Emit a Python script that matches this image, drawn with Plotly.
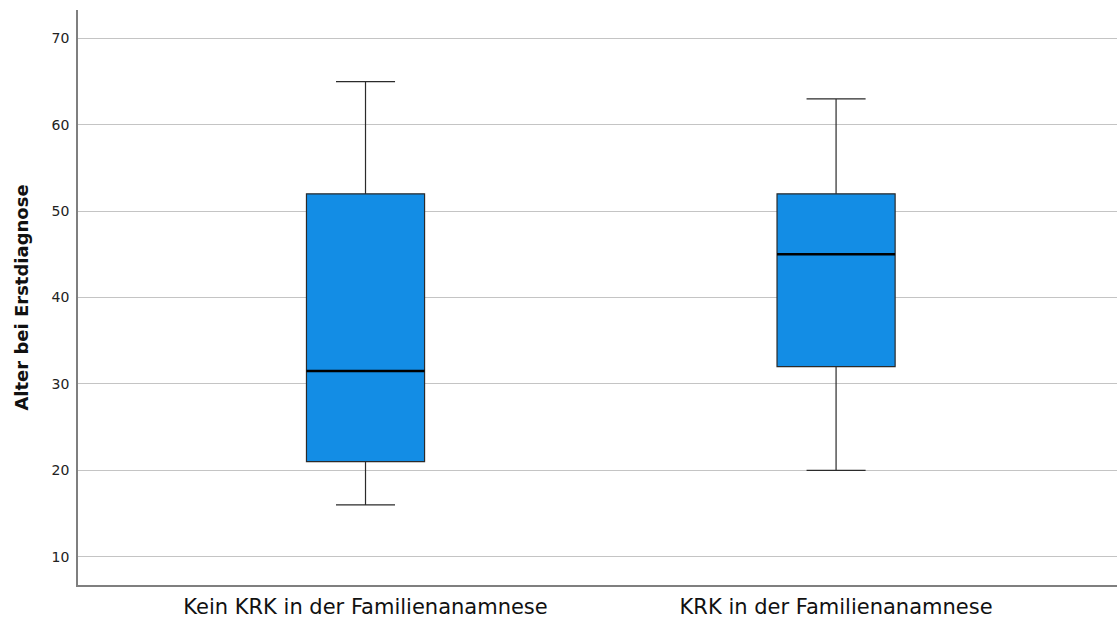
import plotly.graph_objects as go

# Group labels and five-number summaries (age at first diagnosis)
groups = ["Kein KRK in der Familienanamnese", "KRK in der Familienanamnese"]
lower_whisker = [16, 20]
q1 = [21, 32]
median = [31.5, 45]
q3 = [52, 52]
upper_whisker = [65, 63]

y_ticks = [10, 20, 30, 40, 50, 60, 70]

positions = list(range(len(groups)))
box_width = 0.251
box_fill = "#138de5"

fig = go.Figure()

fig.add_trace(go.Box(
    x=positions,
    q1=q1,
    median=median,
    q3=q3,
    lowerfence=lower_whisker,
    upperfence=upper_whisker,
    width=box_width,
    whiskerwidth=0.5,
    fillcolor=box_fill,
    line=dict(color="#2b2b2b", width=1.2),
    boxpoints=False,
    hoverinfo="skip",
    showlegend=False,
))

# Thicker median bars drawn over each box
for pos, med in zip(positions, median):
    fig.add_trace(go.Scatter(
        x=[pos - box_width / 2, pos + box_width / 2],
        y=[med, med],
        mode="lines",
        line=dict(color="black", width=2.6),
        hoverinfo="skip",
        showlegend=False,
    ))

fig.update_layout(
    width=1117,
    height=619,
    margin=dict(l=78, r=0, t=10, b=34),
    plot_bgcolor="white",
    paper_bgcolor="white",
    font=dict(family="DejaVu Sans", color="#222222"),
    xaxis=dict(
        range=[-0.611, 1.597],
        tickmode="array",
        tickvals=positions,
        ticktext=groups,
        tickfont=dict(size=21, color="#111111"),
        ticklabelstandoff=2,
        showgrid=False,
        zeroline=False,
        showline=True,
        linecolor="#7f7f7f",
        linewidth=1.5,
        ticks="",
        ticklen=0,
    ),
    yaxis=dict(
        range=[6.72, 73.28],
        tickmode="array",
        tickvals=y_ticks,
        tickfont=dict(size=14, color="#222222"),
        ticklabelstandoff=4,
        showgrid=True,
        gridcolor="#c4c4c4",
        gridwidth=1,
        zeroline=False,
        showline=True,
        linecolor="#7f7f7f",
        linewidth=1.5,
        ticks="",
        title=dict(
            text="<b>Alter bei Erstdiagnose</b>",
            font=dict(size=18, color="#111111"),
            standoff=18,
        ),
    ),
)

fig.write_html("out.html")
